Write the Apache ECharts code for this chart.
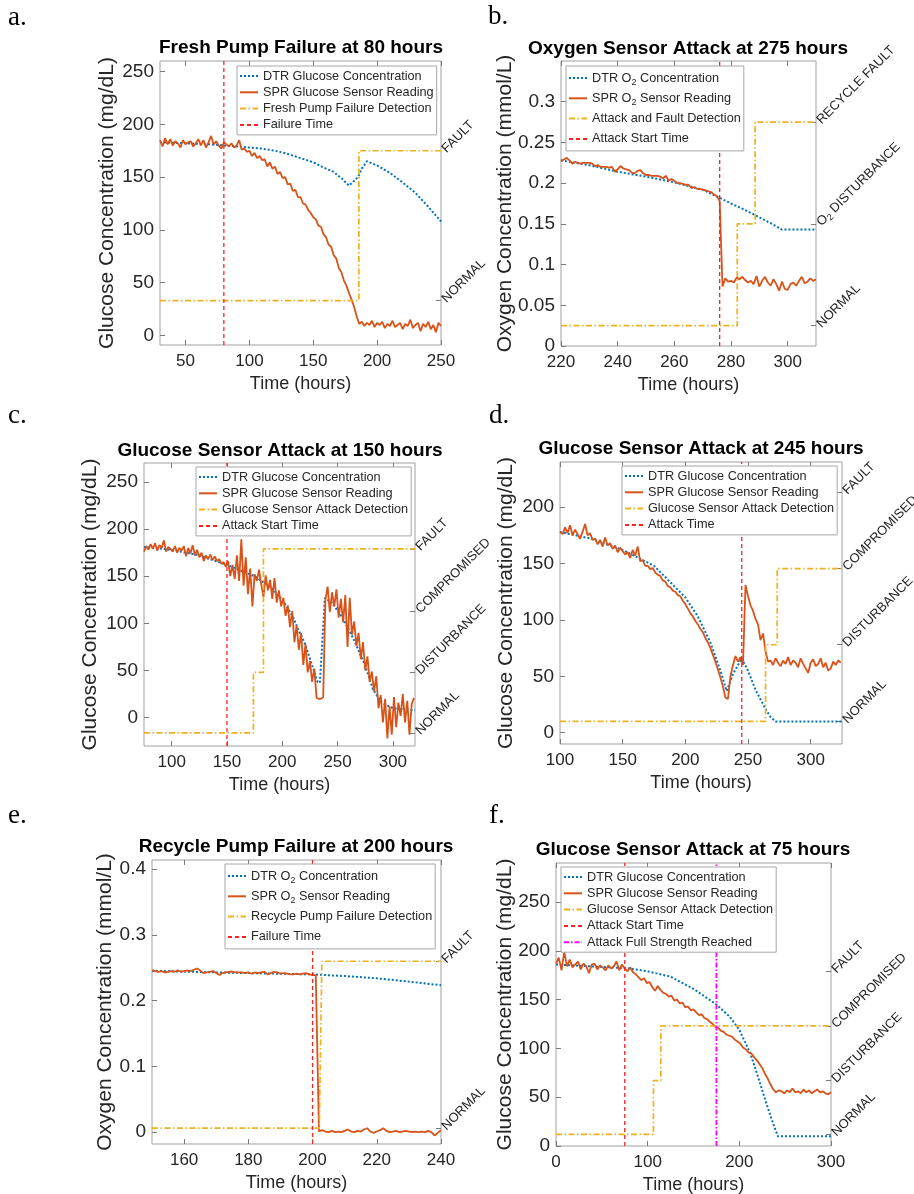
<!DOCTYPE html>
<html><head><meta charset="utf-8">
<script src="https://cdn.jsdelivr.net/npm/echarts@6/dist/echarts.min.js"></script>
<style>html,body{margin:0;padding:0;background:#fff}#c{width:914px;height:1194px}</style>
</head><body><div id="c"></div>
<script>
// ---------------- DATA ----------------
// Panel a : Fresh Pump Failure at 80 hours
const aXTicks = [50,100,150,200,250];
const aYTicks = [0,50,100,150,200,250];
const aStatusLevels = [33,175];
const aStatusNames = ['NORMAL','FAULT'];
const aDtr = [[30,183],[50,182],[70,181],[90,179],[100,178],[110,177],[120,175],[130,172],[140,168],[150,164],[160,158],[166,155],[172,149],[178,142],[185,150],[188,158],[192,165],[200,161],[210,154],[220,145],[230,135],[240,122],[250,108]];
const aSprStart = 30, aSprStep = 2;
const aSpr = [185,179,187,181,186,180,184,182,178,185,
  181,183,184,179,182,186,180,185,178,183,
  189,181,184,180,177,183,181,179,182,178,
  180,185,176,177,174,175,170,173,168,170,
  166,167,160,164,158,160,153,155,149,150,
  143,144,137,138,131,131,125,124,119,116,
  112,110,104,103,96,93,86,84,76,73,
  64,60,52,47,40,34,27,18,11,13,
  9,12,10,14,8,12,10,13,7,11,
  9,14,8,10,12,6,11,9,15,7,
  10,12,4,11,8,13,6,10,3,12,
  9];
const aDetT = [30,185.7,185.7,250];
const aDetV = [33,33,175,175];
const aEventT = 80;

// Panel b : Oxygen Sensor Attack at 275 hours
const bXTicks = [220,240,260,280,300];
const bYTicks = [0,0.05,0.1,0.15,0.2,0.25,0.3];
const bStatusLevels = [0.025,0.15,0.275];
const bStatusNames = ['NORMAL','O2 DISTURBANCE','RECYCLE FAULT'];
const bDtr = [[220,0.228],[230,0.222],[240,0.214],[250,0.208],[260,0.201],[270,0.192],[276,0.182],[280,0.175],[285,0.167],[290,0.158],[295,0.149],[298,0.143],[310,0.143]];
const bSprStart = 220, bSprStep = 1;
const bSpr = [.227,.229,.231,.228,.224,.226,.225,.224,.225,.225,
  .225,.224,.221,.222,.220,.220,.220,.219,.220,.214,
  .217,.221,.218,.217,.216,.213,.212,.215,.216,.212,
  .210,.210,.209,.209,.209,.208,.206,.209,.203,.205,
  .203,.200,.200,.199,.198,.198,.194,.195,.193,.193,
  .192,.191,.190,.189,.186,.184,.178,.073,.083,.079,
  .080,.078,.084,.082,.085,.081,.078,.080,.076,.086,
  .073,.080,.085,.078,.074,.082,.076,.068,.079,.070,
  .069,.076,.078,.074,.080,.085,.077,.079,.083,.080,
  .082];
const bDetT = [220,282.2,282.2,288.5,288.5,310];
const bDetV = [0.025,0.025,0.15,0.15,0.275,0.275];
const bEventT = 276;

// Panel c : Glucose Sensor Attack at 150 hours
const cXTicks = [100,150,200,250,300];
const cYTicks = [0,50,100,150,200,250];
const cStatusLevels = [-16,48,113,179];
const cStatusNames = ['NORMAL','DISTURBANCE','COMPROMISED','FAULT'];
const cDtr = [[75,181],[100,178],[125,172],[150,162],[175,150],[190,138],[200,125],[205,116],[210,106],[215,92],[220,80],[228,52],[232,38],[234,37],[236,76],[238.5,127],[245,122],[255,105],[265,82],[275,55],[282,30],[290,16],[300,10],[320,8]];
const cSprStart = 75, cSprStep = 2;
const cSpr = [176,182,178,184,179,185,177,183,180,188,
  176,181,179,176,182,175,180,177,182,171,
  180,174,183,172,178,170,175,166,172,168,
  173,167,171,166,168,163,165,160,166,150,
  162,147,172,145,189,140,170,131,158,118,
  152,145,157,141,128,151,135,146,126,148,
  122,135,118,127,108,119,96,113,80,98,
  72,90,56,78,48,60,38,52,21,20,
  20,22,125,139,112,133,118,136,106,126,
  101,130,75,127,88,102,76,90,62,80,
  50,65,38,49,28,44,10,24,-5,20,
  -22,12,-18,22,-10,16,2,25,-5,18,
  -18,14,21];
const cDetT = [75,173.9,173.9,183,183,320];
const cDetV = [-16,-16,48,48,179,179];
const cEventT = 150;

// Panel d : Glucose Sensor Attack at 245 hours
const dXTicks = [100,150,200,250,300];
const dYTicks = [0,50,100,150,200];
const dStatusLevels = [10,78,145.5,213];
const dStatusNames = ['NORMAL','DISTURBANCE','COMPROMISED','FAULT'];
const dDtr = [[100,178],[125,172],[150,162],[175,148],[200,120],[210,103],[220,80],[228,55],[233,37],[238,52],[245,66],[250,55],[256,38],[264,21],[268,14],[272,10],[325,10]];
const dSprStart = 100, dSprStep = 2;
const dSpr = [178,176,182,177,184,175,180,176,172,178,
  185,175,177,171,172,167,171,165,173,166,
  168,163,166,160,164,161,158,160,155,162,
  157,165,152,153,148,148,145,146,142,140,
  139,135,134,130,129,126,125,122,121,117,
  114,110,106,103,99,96,92,89,84,80,
  75,69,63,56,49,41,31,30,50,60,
  68,63,67,60,131,121,113,108,101,96,
  82,88,72,63,64,60,66,62,59,64,
  61,67,60,64,62,58,66,61,57,53,
  62,65,59,61,66,58,62,55,57,63,
  60,64,62];
const dDetT = [100,264,264,273.3,273.3,325];
const dDetV = [10,10,78,78,145.5,145.5];
const dEventT = 245;

// Panel e : Recycle Pump Failure at 200 hours
const eXTicks = [160,180,200,220,240];
const eYTicks = [0,0.1,0.2,0.3,0.4];
const eStatusLevels = [0.006,0.26];
const eStatusNames = ['NORMAL','FAULT'];
const eDtr = [[150,0.2455],[170,0.243],[190,0.241],[200,0.240],[210,0.2375],[220,0.234],[230,0.229],[240,0.2235]];
const eSprStart = 150, eSprStep = 1;
const eSpr = [.246,.245,.244,.245,.243,.244,.245,.244,.246,.244,
  .245,.246,.245,.247,.249,.246,.242,.243,.244,.245,
  .242,.239,.242,.243,.244,.244,.243,.243,.243,.242,
  .243,.241,.243,.242,.243,.244,.240,.242,.244,.243,
  .241,.242,.241,.240,.240,.241,.240,.241,.242,.240,
  .239,.239,.001,.003,.001,.000,.002,.000,.001,.000,
  .002,.004,.001,.000,.002,.001,.004,.006,.001,-.001,
  .001,.003,.006,.002,.000,.001,.002,.000,.001,.002,
  .001,.000,.001,.000,.001,.000,.002,.000,-.005,-.001,
  .003];
const eDetT = [150,202.1,202.9,240];
const eDetV = [0.006,0.006,0.26,0.26];
const eEventT = 200;

// Panel f : Glucose Sensor Attack at 75 hours
const fXTicks = [0,100,200,300];
const fYTicks = [0,50,100,150,200,250];
const fStatusLevels = [12,67,123,179];
const fStatusNames = ['NORMAL','DISTURBANCE','COMPROMISED','FAULT'];
const fDtr = [[0,186],[40,184],[80,182],[100,179],[125,173.5],[150,161],[175,145],[190,132],[200,119],[212,95],[220,72],[228,48],[235,28],[242,10],[300,10]];
const fSprStart = 0, fSprStep = 3;
const fSpr = [187,193,180,199,184,191,183,186,189,181,
  187,184,177,186,187,181,185,183,180,185,
  182,184,189,180,186,182,179,183,178,176,
  173,170,172,167,168,163,159,164,160,157,
  156,153,154,149,150,146,147,142,143,139,
  140,137,134,135,131,130,127,125,122,121,
  118,117,114,113,112,109,107,105,101,99,
  96,95,91,88,84,80,74,69,63,58,
  55,57,56,54,57,55,59,55,56,54,
  58,55,57,54,56,58,55,56,54,53,
  55];
const fDetT = [0,106.3,106.3,114.4,114.4,300];
const fDetV = [12,12,67,67,123,123];
const fEventT = 75;
const fFullT = 175;

// ---------------- BUILD ----------------
const FONT = 'Liberation Sans, Arial, Helvetica, sans-serif';
const TXT = '#262626', AXC = '#a0a0a0', TICK = '#7a7a7a';
const STY = {
  dtr: {color:'#0072BD', width:2, type:[2,2]},
  spr: {color:'#D95319', width:1.8, type:'solid'},
  det: {color:'#EDB120', width:1.7, type:[6,2.5,1.5,2.5]},
  evt: {color:'#FF2020', width:1.3, type:[4,3]},
  mag: {color:'#FF00FF', width:1.8, type:[5,2,1.5,2]}
};
const seq = (start, step, vals) => vals.map((v,i)=>[start+i*step, v]);
const zip = (ts, vs) => ts.map((t,i)=>[t, vs[i]]);
const vline = (t, yr) => [[t, yr[0]],[t, yr[1]]];

const G = ['DTR Glucose Concentration','SPR Glucose Sensor Reading'];
const O = ['DTR O2 Concentration','SPR O2 Sensor Reading'];

const panels = [
 {grid:[160,61,281,284], xr:[30,250], yr:[-9,260], xt:aXTicks, yt:aYTicks, lv:aStatusLevels, ln:aStatusNames,
  yName:'Glucose Concentration (mg/dL)', yGap:42, title:['Fresh Pump Failure at 80 hours',301,47.8], tag:['a.',8,18], legend:[237,66,14],
  series:[[G[0],'dtr',aDtr],[G[1],'spr',seq(aSprStart,aSprStep,aSpr)],['Fresh Pump Failure Detection','det',zip(aDetT,aDetV)],['Failure Time','evt',vline(aEventT,[-9,260])]]},
 {grid:[561,61,255,285], xr:[220,310], yr:[0,0.35], xt:bXTicks, yt:bYTicks, lv:bStatusLevels, ln:bStatusNames,
  yName:'Oxygen Concentration (mmol/L)', yGap:45, title:['Oxygen Sensor Attack at 275 hours',688,48.7], tag:['b.',488,17], legend:[566,66,18],
  series:[[O[0],'dtr',bDtr],[O[1],'spr',seq(bSprStart,bSprStep,bSpr)],['Attack and Fault Detection','det',zip(bDetT,bDetV)],['Attack Start Time','evt',vline(bEventT,[0,0.35])]]},
 {grid:[144,463,271,283], xr:[75,320], yr:[-30,270], xt:cXTicks, yt:cYTicks, lv:cStatusLevels, ln:cStatusNames,
  yName:'Glucose Concentration (mg/dL)', yGap:43, title:['Glucose Sensor Attack at 150 hours',280,450.3], tag:['c.',8,415.5], legend:[196,467,14],
  series:[[G[0],'dtr',cDtr],[G[1],'spr',seq(cSprStart,cSprStep,cSpr)],['Glucose Sensor Attack Detection','det',zip(cDetT,cDetV)],['Attack Start Time','evt',vline(cEventT,[-30,270])]]},
 {grid:[560,462,282,282], xr:[100,325], yr:[-10,240], xt:dXTicks, yt:dYTicks, lv:dStatusLevels, ln:dStatusNames,
  yName:'Glucose Concentration (mg/dL)', yGap:43, title:['Glucose Sensor Attack at 245 hours',701,448.8], tag:['d.',489,415.5], legend:[622,466,14],
  series:[[G[0],'dtr',dDtr],[G[1],'spr',seq(dSprStart,dSprStep,dSpr)],['Glucose Sensor Attack Detection','det',zip(dDetT,dDetV)],['Attack Time','evt',vline(dEventT,[-10,240])]]},
 {grid:[152,860,289,284], xr:[150,240], yr:[-0.018,0.414], xt:eXTicks, yt:eYTicks, lv:eStatusLevels, ln:eStatusNames,
  yName:'Oxygen Concentration (mmol/L)', yGap:36, title:['Recycle Pump Failure at 200 hours',296,847], tag:['e.',8,816], legend:[225,864,18],
  series:[[O[0],'dtr',eDtr],[O[1],'spr',seq(eSprStart,eSprStep,eSpr)],['Recycle Pump Failure Detection','det',zip(eDetT,eDetV)],['Failure Time','evt',vline(eEventT,[-0.018,0.414])]]},
 {grid:[556,863,275,283], xr:[0,300], yr:[0,290], xt:fXTicks, yt:fYTicks, lv:fStatusLevels, ln:fStatusNames,
  yName:'Glucose Concentration (mg/dL)', yGap:40, title:['Glucose Sensor Attack at 75 hours',693,850], tag:['f.',489,816], legend:[561,867,14],
  series:[[G[0],'dtr',fDtr],[G[1],'spr',seq(fSprStart,fSprStep,fSpr)],['Glucose Sensor Attack Detection','det',zip(fDetT,fDetV)],['Attack Start Time','evt',vline(fEventT,[0,290])],['Attack Full Strength Reached','mag',vline(fFullT,[0,290])]]}
];

const richO2 = s => s.includes('O2') ? s.split('O2').map(t=>'{n|'+t+'}').join('{n|O}{s|2}') : s;

const option = {
  animation:false,
  backgroundColor:'#fff',
  textStyle:{fontFamily:FONT},
  grid:[], xAxis:[], yAxis:[], series:[], legend:[], graphic:[]
};

panels.forEach((p,i)=>{
  option.grid.push({left:p.grid[0], top:p.grid[1], width:p.grid[2], height:p.grid[3], show:true,
    borderColor:AXC, borderWidth:1, backgroundColor:'transparent', containLabel:false, outerBoundsMode:'none'});
  const tick = vals => ({show:true, inside:true, length:5, customValues:vals, lineStyle:{color:TICK, width:1}});
  const noLine = {show:false, onZero:false};
  option.xAxis.push({type:'value', gridIndex:i, position:'bottom', min:p.xr[0], max:p.xr[1],
    axisLine:noLine, splitLine:{show:false}, axisTick:tick(p.xt),
    axisLabel:{customValues:p.xt, fontSize:17, color:TXT, margin:8, fontFamily:FONT},
    name:'Time (hours)', nameLocation:'middle', nameGap:30, nameMoveOverlap:false,
    nameTextStyle:{fontSize:18, color:TXT, fontFamily:FONT}});
  option.xAxis.push({type:'value', gridIndex:i, position:'top', min:p.xr[0], max:p.xr[1],
    axisLine:noLine, splitLine:{show:false}, axisTick:tick(p.xt), axisLabel:{show:false}});
  option.yAxis.push({type:'value', gridIndex:i, position:'left', min:p.yr[0], max:p.yr[1],
    axisLine:noLine, splitLine:{show:false}, axisTick:tick(p.yt),
    axisLabel:{customValues:p.yt, fontSize:19, color:TXT, margin:6, fontFamily:FONT, formatter:v=>String(v)},
    name:p.yName, nameLocation:'middle', nameGap:p.yGap, nameMoveOverlap:false,
    nameTextStyle:{fontSize:21, color:TXT, fontFamily:FONT}});
  const lv = p.lv, ln = p.ln;
  option.yAxis.push({type:'value', gridIndex:i, position:'right', min:p.yr[0], max:p.yr[1],
    axisLine:noLine, splitLine:{show:false}, axisTick:tick(lv),
    axisLabel:{customValues:lv, rotate:45, fontSize:13, color:TXT, margin:3, fontFamily:FONT,
      formatter:v=>{let k=0; lv.forEach((l,j)=>{ if(Math.abs(l-v)<Math.abs(lv[k]-v)) k=j; }); return richO2(ln[k]);},
      rich:{n:{fontSize:13, color:TXT, fontFamily:FONT, lineHeight:16}, s:{fontSize:9, color:TXT, fontFamily:FONT, lineHeight:9, verticalAlign:'bottom'}}}});
  p.series.forEach(s=>{
    const st = STY[s[1]];
    option.series.push({name:s[0], type:'line', xAxisIndex:2*i, yAxisIndex:2*i, data:s[2],
      symbol:'none', showSymbol:false, smooth:false, silent:true,
      lineStyle:{color:st.color, width:st.width, type:st.type, cap:'butt'}, itemStyle:{color:st.color}});
  });
  const lh = p.legend[2];
  option.legend.push({orient:'vertical', left:p.legend[0], top:p.legend[1], itemWidth:18, itemHeight:10, itemGap:2.3,
    padding:[3,3,3,2], backgroundColor:'#fff', borderColor:'#a6a6a6', borderWidth:1, borderRadius:0,
    selectedMode:false, data:p.series.map(s=>s[0]), formatter:richO2, z:10,
    itemStyle:{opacity:0},
    textStyle:{fontFamily:FONT, fontSize:12.7, color:TXT, lineHeight:lh,
      rich:{n:{fontFamily:FONT, fontSize:12.7, color:TXT, lineHeight:lh}, s:{fontFamily:FONT, fontSize:9, color:TXT, lineHeight:9, verticalAlign:'bottom'}}}});
  option.graphic.push({type:'text', x:p.title[1], y:p.title[2], z:20,
    style:{text:p.title[0], font:'bold 19px '+FONT, fill:'#000', textAlign:'center', textVerticalAlign:'middle', align:'center', verticalAlign:'middle'}});
  option.graphic.push({type:'text', x:p.tag[1], y:p.tag[2], z:20,
    style:{text:p.tag[0], font:'27px Liberation Serif, Times New Roman, serif', fill:'#000', textAlign:'left', textVerticalAlign:'middle', align:'left', verticalAlign:'middle'}});
});

const chart = echarts.init(document.getElementById('c'), null, {renderer:'canvas'});
chart.setOption(option);
</script></body></html>
